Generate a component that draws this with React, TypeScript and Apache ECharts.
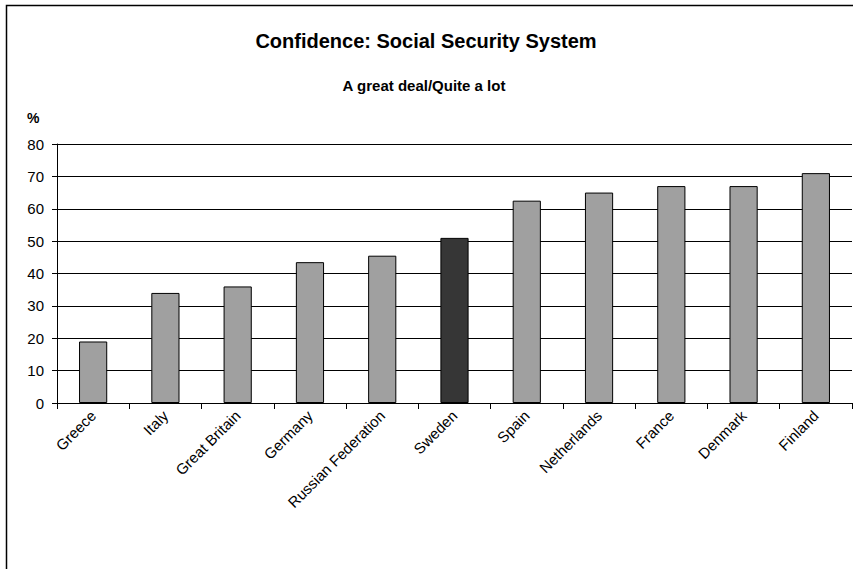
import React, { useEffect, useRef } from "react";
import * as echarts from "echarts";

const categories = [
  "Greece",
  "Italy",
  "Great Britain",
  "Germany",
  "Russian Federation",
  "Sweden",
  "Spain",
  "Netherlands",
  "France",
  "Denmark",
  "Finland",
];
const values = [19, 34, 36, 43.5, 45.5, 51, 62.5, 65, 67, 67, 71];
const highlighted = ["Sweden"];
const titleText = "Confidence: Social Security System";
const subtitleText = "A great deal/Quite a lot";
const unitText = "%";

const FONT = "Arial, 'Liberation Sans', sans-serif";

export default function App() {
  const ref = useRef<HTMLDivElement>(null);
  useEffect(() => {
    document.body.style.margin = "0";
    if (!ref.current) return;
    const chart = echarts.init(ref.current, undefined, { renderer: "svg" });
    chart.setOption({
      animation: false,
      backgroundColor: "#fff",
      title: [
        {
          text: titleText,
          left: 426,
          top: 31,
          textAlign: "center",
          padding: 0,
          textStyle: { fontSize: 20, fontWeight: "bold", fontFamily: FONT, color: "#000", lineHeight: 20 },
        },
        {
          text: subtitleText,
          left: 424,
          top: 78,
          textAlign: "center",
          padding: 0,
          textStyle: { fontSize: 15, fontWeight: "bold", fontFamily: FONT, color: "#000", lineHeight: 15 },
        },
        {
          text: unitText,
          left: 27,
          top: 111,
          padding: 0,
          textStyle: { fontSize: 14, fontWeight: "bold", fontFamily: FONT, color: "#000", lineHeight: 14 },
        },
      ],
      graphic: [
        {
          type: "rect",
          shape: { x: 6.5, y: 5.5, width: 900, height: 700 },
          style: { fill: "none", stroke: "#000", lineWidth: 1.5 },
          silent: true,
        },
      ],
      grid: { left: 57, right: 1, top: 144, height: 259 },
      xAxis: {
        type: "category",
        data: categories,
        axisLine: { show: true, lineStyle: { color: "#000", width: 1 } },
        axisTick: { show: true, length: 6, alignWithLabel: false, lineStyle: { color: "#000" } },
        axisLabel: {
          rotate: 45,
          fontSize: 15,
          fontFamily: FONT,
          color: "#000",
          margin: 10,
          interval: 0,
        },
        splitLine: { show: false },
      },
      yAxis: {
        type: "value",
        min: 0,
        max: 80,
        interval: 10,
        axisLine: { show: true, lineStyle: { color: "#000", width: 1 } },
        axisTick: { show: true, length: 5, lineStyle: { color: "#000" } },
        axisLabel: { fontSize: 15, fontFamily: FONT, color: "#000", margin: 13 },
        splitLine: { show: true, lineStyle: { color: "#000", width: 1 } },
      },
      series: [
        {
          type: "bar",
          barWidth: "39%",
          data: values.map((v, i) => ({
            value: v,
            itemStyle: {
              color: highlighted.includes(categories[i]) ? "#363636" : "#A0A0A0",
            },
          })),
          itemStyle: { borderColor: "#000", borderWidth: 1 },
        },
      ],
    });
    return () => chart.dispose();
  }, []);
  return <div ref={ref} style={{ width: 853, height: 569 }} />;
}
